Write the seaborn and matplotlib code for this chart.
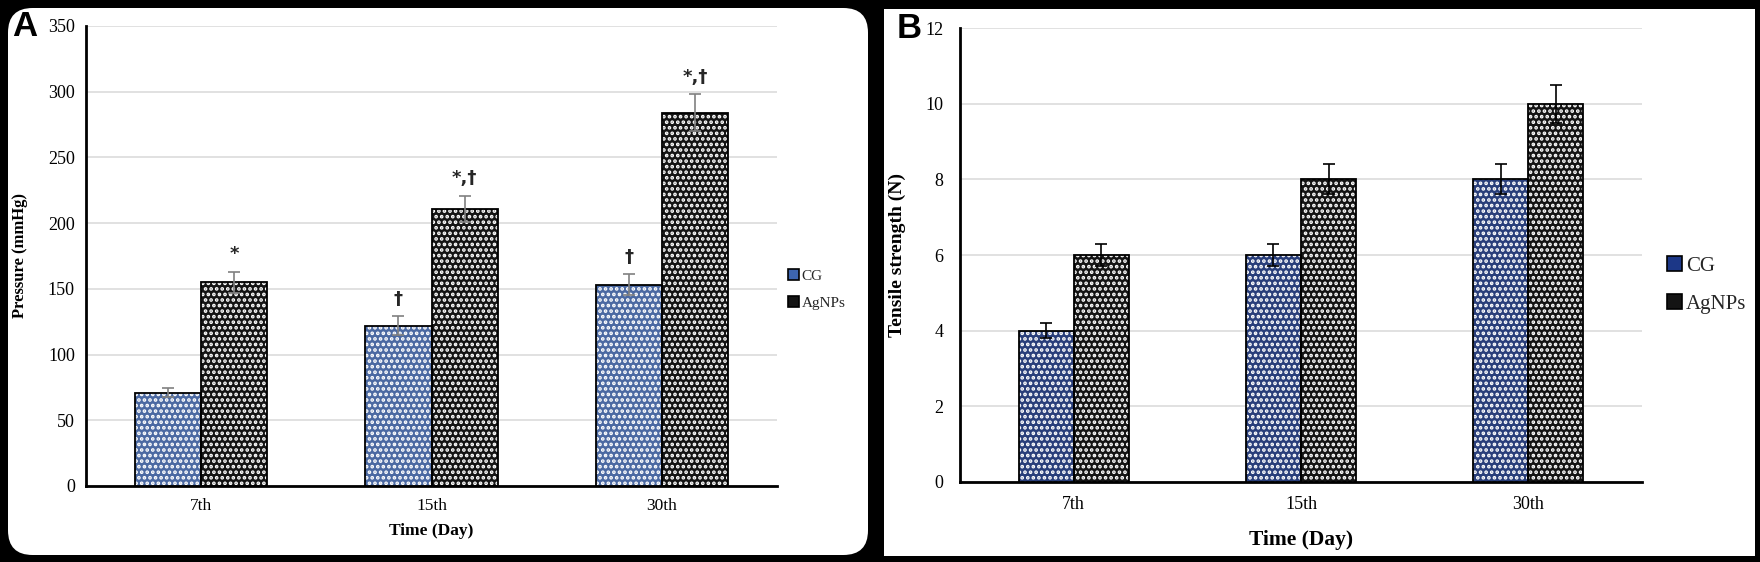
import numpy as np
import pandas as pd
import matplotlib
matplotlib.use("Agg")
import matplotlib.pyplot as plt
import seaborn as sns
from matplotlib.patches import FancyBboxPatch, Rectangle, Patch

# --- data ---
days = ["7th", "15th", "30th"]
groups = ["CG", "AgNPs"]

pressure_cg = [71, 122, 153]
pressure_ag = [155, 211, 284]
pressure_cg_err = [3.5, 7, 8]
pressure_ag_err = [8, 10, 14]
pressure_marks_cg = ["", "†", "†"]
pressure_marks_ag = ["*", "*,†", "*,†"]

tensile_cg = [4, 6, 8]
tensile_ag = [6, 8, 10]
tensile_cg_err = [0.2, 0.3, 0.4]
tensile_ag_err = [0.3, 0.4, 0.5]

SERIF = "Liberation Serif"
COLORS_A = {"CG": "#3d65b0", "AgNPs": "#141414"}
COLORS_B = {"CG": "#1c3787", "AgNPs": "#141414"}

sns.set_theme(style="white")
plt.rcParams["font.family"] = [SERIF, "DejaVu Serif"]
plt.rcParams["hatch.linewidth"] = 1.8

W, H = 1760, 562
fig = plt.figure(figsize=(W / 100, H / 100), dpi=100, facecolor="black")


def px_box(x0, y0, x1, y1):
    # pixel box (top-left origin) -> figure fraction [l, b, w, h]
    return [x0 / W, 1 - y1 / H, (x1 - x0) / W, (y1 - y0) / H]


# white panels (behind the axes)
l, b, w, h = px_box(8, 8, 868, 555)
fig.patches.append(FancyBboxPatch((l, b), w, h, boxstyle="round,pad=0,rounding_size=0.014",
                                  transform=fig.transFigure, facecolor="white", edgecolor="none",
                                  mutation_aspect=W / H, zorder=-5))
l, b, w, h = px_box(884, 9, 1755, 556)
fig.patches.append(Rectangle((l, b), w, h, transform=fig.transFigure,
                             facecolor="white", edgecolor="none", zorder=-5))


def long_df(cg, ag):
    return pd.DataFrame({
        "day": days * 2,
        "group": [groups[0]] * len(days) + [groups[1]] * len(days),
        "value": list(cg) + list(ag),
    })


def draw_panel(ax, df, colors, errs, width, err_color, ylim, ystep):
    sns.barplot(data=df, x="day", y="value", hue="group", order=days, hue_order=groups,
                palette=colors, errorbar=None, width=width, gap=0, dodge=True,
                legend=False, ax=ax, zorder=3)
    for cont, err in zip(ax.containers, errs):
        xs, ys = [], []
        for p in cont.patches:
            p.set_hatch("...")
            p.set_edgecolor("white")
            p.set_linewidth(0)
            ax.add_patch(Rectangle(p.get_xy(), p.get_width(), p.get_height(), fill=False,
                                   edgecolor="black", linewidth=1.3, zorder=4))
            xs.append(p.get_x() + p.get_width() / 2)
            ys.append(p.get_height())
        ax.errorbar(xs, ys, yerr=err, fmt="none", ecolor=err_color, elinewidth=1.2,
                    capsize=4.5, capthick=1.2, zorder=5)
    ax.set_xlim(-0.5, len(days) - 0.5)
    ax.set_ylim(*ylim)
    ax.set_yticks(np.arange(ylim[0], ylim[1] + ystep / 2, ystep))
    ax.yaxis.grid(True, color="#d9d9d9", linewidth=1.1, zorder=0)
    ax.xaxis.grid(False)
    ax.set_axisbelow(True)
    for s in ["top", "right"]:
        ax.spines[s].set_visible(False)
    for s in ["left", "bottom"]:
        ax.spines[s].set_color("black")
        ax.spines[s].set_linewidth(2)
    ax.tick_params(length=0, colors="black")
    ax.set_facecolor("white")


def add_legend(colors, anchor, fontsize):
    handles = [Patch(facecolor=colors[g], edgecolor="black", linewidth=1.2, label=g) for g in groups]
    fig.legend(handles=handles, loc="upper left", bbox_to_anchor=anchor, frameon=False,
               fontsize=fontsize, handlelength=0.7, handleheight=0.7, handletextpad=0.2,
               labelspacing=0.9, borderaxespad=0, borderpad=0)


# --- Panel A ---
axA = fig.add_axes(px_box(86, 26, 777, 486))
draw_panel(axA, long_df(pressure_cg, pressure_ag), COLORS_A,
           [pressure_cg_err, pressure_ag_err], 0.574, "#808080", (0, 350), 50)
for cont, marks, vals, errs in zip(axA.containers, [pressure_marks_cg, pressure_marks_ag],
                                   [pressure_cg, pressure_ag], [pressure_cg_err, pressure_ag_err]):
    for p, m, v, e in zip(cont.patches, marks, vals, errs):
        if m:
            axA.annotate(m, (p.get_x() + p.get_width() / 2, v + e), xytext=(0, 6),
                         textcoords="offset points", ha="center", va="bottom",
                         fontsize=13, fontweight="bold", family="DejaVu Sans", zorder=6)
axA.tick_params(axis="y", labelsize=13, pad=8)
axA.tick_params(axis="x", labelsize=12.5, pad=9)
axA.set_xlabel("Time (Day)", fontsize=12.5, fontweight="bold", labelpad=6, color="black")
axA.set_ylabel("Pressure (mmHg)", fontsize=12, fontweight="bold", labelpad=14, color="black")
add_legend(COLORS_A, (788 / W, 1 - 269 / H), 11)
fig.text(12 / W, 1 - 10 / H, "A", fontsize=25, fontweight="bold", family="Liberation Sans",
         ha="left", va="top", color="black")

# --- Panel B ---
axB = fig.add_axes(px_box(960, 28, 1642, 482))
draw_panel(axB, long_df(tensile_cg, tensile_ag), COLORS_B,
           [tensile_cg_err, tensile_ag_err], 0.484, "black", (0, 12), 2)
axB.tick_params(axis="y", labelsize=13, pad=12)
axB.tick_params(axis="x", labelsize=13, pad=10)
axB.set_xlabel("Time (Day)", fontsize=15.5, fontweight="bold", labelpad=12, color="black")
axB.set_ylabel("Tensile strength (N)", fontsize=14, fontweight="bold", labelpad=14, color="black")
add_legend(COLORS_B, (1667 / W, 1 - 256 / H), 15)
fig.text(897 / W, 1 - 12 / H, "B", fontsize=25, fontweight="bold", family="Liberation Sans",
         ha="left", va="top", color="black")

fig.savefig("out.png", dpi=100, facecolor="black")
